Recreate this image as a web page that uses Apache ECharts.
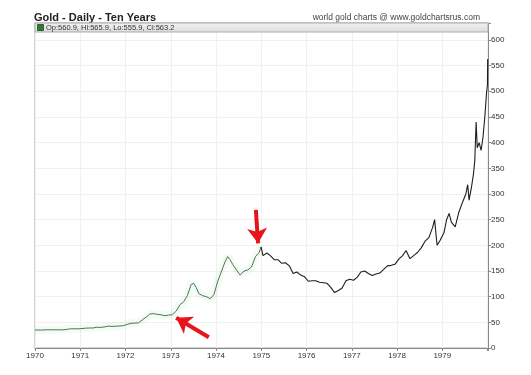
<!DOCTYPE html>
<html>
<head>
<meta charset="utf-8">
<script src="https://cdn.jsdelivr.net/npm/echarts@6/dist/echarts.min.js"></script>
<style>html,body{margin:0;padding:0;background:#fff}#c{width:531px;height:375px}</style>
</head>
<body>
<div id="c"></div>
<script>
// ---- data (approximate closes) ----
const dates = [
"1970-01-02","1970-02-15","1970-03-15","1970-04-15","1970-05-15","1970-06-15","1970-07-15","1970-08-15","1970-09-15","1970-10-15","1970-11-15","1970-12-15",
"1971-01-15","1971-02-15","1971-03-15","1971-04-15","1971-05-15","1971-06-15","1971-07-15","1971-08-15","1971-09-15","1971-10-15","1971-11-15","1971-12-15",
"1972-01-15","1972-02-15","1972-03-15","1972-04-15","1972-05-15","1972-06-15","1972-07-15","1972-08-15","1972-09-15","1972-10-15","1972-11-15","1972-12-15",
"1973-01-15","1973-02-15","1973-03-15","1973-04-15","1973-05-15","1973-06-15","1973-07-05","1973-07-25","1973-08-15","1973-09-15","1973-10-15","1973-11-15","1973-12-15",
"1974-01-15","1974-02-15","1974-03-15","1974-04-05","1974-04-25","1974-05-15","1974-06-15","1974-07-15","1974-08-15","1974-09-15","1974-10-15","1974-11-15","1974-12-15","1974-12-30",
"1975-01-15","1975-02-15","1975-03-15","1975-04-15","1975-05-15","1975-06-15","1975-07-15","1975-08-15","1975-09-15","1975-10-15","1975-11-15","1975-12-15",
"1976-01-15","1976-02-15","1976-03-15","1976-04-15","1976-05-15","1976-06-15","1976-07-15","1976-08-15","1976-09-15","1976-10-15","1976-11-15","1976-12-15",
"1977-01-15","1977-02-15","1977-03-15","1977-04-15","1977-05-15","1977-06-15","1977-07-15","1977-08-15","1977-09-15","1977-10-15","1977-11-15","1977-12-15",
"1978-01-15","1978-02-15","1978-03-15","1978-04-15","1978-05-15","1978-06-15","1978-07-15","1978-08-15","1978-09-15","1978-10-15","1978-10-31","1978-11-20","1978-12-15",
"1979-01-15","1979-02-05","1979-02-25","1979-03-15","1979-04-15","1979-05-15","1979-06-15","1979-07-10","1979-07-25","1979-08-05","1979-08-25","1979-09-10","1979-09-20","1979-10-01","1979-10-10","1979-10-25","1979-11-10","1979-11-25","1979-12-10","1979-12-24","1979-12-31","1980-01-02"
];
const closes = [
35.2,34.9,35.2,35.6,35.4,35.5,35.3,35.4,36.2,37.5,37.4,37.4,
37.9,38.7,38.9,39.0,40.5,40.1,41.0,42.6,42.0,42.5,42.9,43.6,
46.0,48.2,48.3,49.0,54.6,60.0,66.0,67.0,65.5,64.6,62.8,64.0,
65.0,72.0,84.0,90.0,102,124,126,118,106,102,100,96,104,
130,150,168,178,172,163,152,142,150,152,158,178,186,197,
180,185,180,172,172,165,166,160,145,148,142,139,
130,131,131,128,127,126,118,108,112,117,131,134,
132,138,148,150,145,141,144,146,153,160,161,163,
173,180,190,174,180,186,195,208,215,235,250,200,210,
225,250,262,245,236,265,285,300,318,288,314,340,365,440,390,400,385,410,450,497,512,563
];
const splitDate = "1974-12-30";
const yTicks = [0,50,100,150,200,250,300,350,400,450,500,550,600];
const yearLabels = ["1970","1971","1972","1973","1974","1975","1976","1977","1978","1979"];
const legendText = "Op:560.9, Hi:565.9, Lo:555.9, Cl:563.2";
// annotation arrows (tail -> head) in [year, price]
const arrows = [
  [[1974.88, 269], [1974.93, 204]],
  [[1973.84, 21], [1973.12, 59]]
];

function toYear(s){
  const d = Date.parse(s + "T00:00:00Z");
  const y = new Date(d).getUTCFullYear();
  const a = Date.UTC(y,0,1), b = Date.UTC(y+1,0,1);
  return y + (d - a) / (b - a);
}
const all = dates.map((d,i)=>[toYear(d), closes[i]]);
const early = all.filter((p,i)=>dates[i] <= splitDate);
const late = all.filter((p,i)=>dates[i] >= splitDate);

const FONT = "Liberation Sans, Arial, sans-serif";
const chart = echarts.init(document.getElementById('c'), null, {renderer:'canvas'});
chart.setOption({
  animation: false,
  backgroundColor: '#fff',
  grid: {left: 35, right: 43, top: 23, bottom: 27, show: true, borderColor: '#aaa', borderWidth: 1},
  xAxis: {
    type: 'value', min: 1970, max: 1980.01, interval: 1,
    axisLine: {show: true, lineStyle: {color: '#888'}},
    axisTick: {show: true, length: 3, lineStyle: {color: '#888'}},
    axisLabel: {fontSize: 8, color: '#333', fontFamily: FONT, margin: 4,
      formatter: v => yearLabels.indexOf(String(Math.round(v))) >= 0 && Math.abs(v-Math.round(v))<1e-6 ? String(Math.round(v)) : ''},
    splitLine: {show: true, lineStyle: {color: '#f0f0f0', width: 1}}
  },
  yAxis: {
    type: 'value', position: 'right', min: 0, max: 633, interval: 50,
    axisLine: {show: true, lineStyle: {color: '#888'}},
    axisTick: {show: true, length: 3, lineStyle: {color: '#888'}},
    axisLabel: {fontSize: 8, color: '#333', fontFamily: FONT, margin: 3,
      formatter: v => yTicks.indexOf(v) >= 0 ? String(v) : ''},
    splitLine: {show: true, lineStyle: {color: '#f0f0f0', width: 1}}
  },
  graphic: [
    {type: 'text', left: 34, top: 12, style: {text: 'Gold - Daily - Ten Years', fontSize: 11, fontWeight: 'bold', fill: '#222', fontFamily: FONT}},
    {type: 'text', right: 51, top: 13, style: {text: 'world gold charts @ www.goldchartsrus.com', fontSize: 8.5, fill: '#444', fontFamily: FONT}},
    {type: 'rect', shape: {x: 35, y: 23, width: 453, height: 9}, style: {fill: new echarts.graphic.LinearGradient(0,0,0,1,[{offset:0,color:'#f2f2f2'},{offset:1,color:'#dcdcdc'}]), stroke: '#aaa', lineWidth: 1}, z: 10},
    {type: 'rect', shape: {x: 37.5, y: 24.5, width: 6, height: 6}, style: {fill: '#2e7d32', stroke: '#1b4d1e', lineWidth: 0.8}, z: 11},
    {type: 'text', left: 46, top: 23.5, style: {text: legendText, fontSize: 7.5, fill: '#333', fontFamily: FONT}, z: 11}
  ],
  series: [
    {type: 'line', data: early, showSymbol: false, silent: true,
     lineStyle: {color: 'rgba(150,230,150,0.12)', width: 8}, z: 1},
    {type: 'line', data: early, showSymbol: false, silent: true,
     lineStyle: {color: '#55705a', width: 1}, z: 2},
    {type: 'line', data: late, showSymbol: false, silent: true,
     lineStyle: {color: '#1e1e1e', width: 1.1}, z: 3,
     markLine: {
       silent: true, animation: false,
       symbol: ['none', 'arrow'], symbolSize: [15, 15],
       label: {show: false},
       lineStyle: {color: '#e8141c', width: 4, type: 'solid'},
       emphasis: {disabled: true},
       data: arrows.map(a => [{coord: a[0]}, {coord: a[1]}])
     }}
  ]
});
</script>
</body>
</html>
